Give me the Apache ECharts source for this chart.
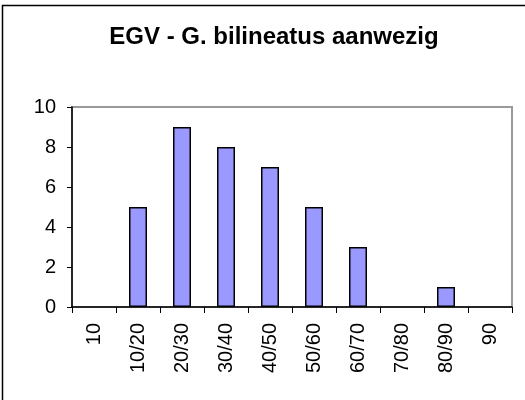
<!DOCTYPE html>
<html>
<head>
    <meta charset="utf-8">
    <title>EGV - G. bilineatus aanwezig</title>
    <script src="https://cdn.jsdelivr.net/npm/echarts@6/dist/echarts.min.js"></script>
    <style>
        html, body { margin: 0; padding: 0; background: #fff; }
        #chart1 { width: 525px; height: 400px; }
    </style>
</head>
<body>
<div id="chart1"></div>
<script type="text/javascript">
    var klassen = ['10', '10/20', '20/30', '30/40', '40/50', '50/60', '60/70', '70/80', '80/90', '90'];
    var aantallen = [0, 5, 9, 8, 7, 5, 3, 0, 1, 0];
    var yTicks = [0, 2, 4, 6, 8, 10];

    var font = 'Arial, "Liberation Sans", sans-serif';
    var myChart1 = echarts.init(document.getElementById('chart1'));

    // lege klassen zonder rand tekenen, zoals in Excel
    var barData = aantallen.map(function (v) {
        return v === 0 ? { value: v, itemStyle: { borderWidth: 0 } } : v;
    });

    myChart1.setOption({
        animation: false,
        backgroundColor: '#fff',
        title: {
            text: 'EGV - G. bilineatus aanwezig',
            left: 269,
            textAlign: 'center',
            top: 20,
            textStyle: { fontFamily: font, fontSize: 24, fontWeight: 'bold', color: '#000' }
        },
        graphic: [
            {
                // buitenste kader (loopt buiten beeld door)
                type: 'rect',
                shape: { x: 2.5, y: 5.5, width: 600, height: 500 },
                style: { fill: 'none', stroke: '#000', lineWidth: 1.5 },
                z: -1
            }
        ],
        grid: {
            left: 72,
            top: 107,
            right: 13,
            bottom: 93,
            show: true,
            borderColor: '#999',
            borderWidth: 2
        },
        xAxis: {
            type: 'category',
            data: klassen,
            boundaryGap: true,
            axisLine: { lineStyle: { color: '#000', width: 1.5 } },
            axisTick: { show: true, length: 6, lineStyle: { color: '#000' } },
            axisLabel: {
                rotate: 90,
                margin: 16,
                interval: 0,
                fontFamily: font,
                fontSize: 20,
                color: '#000'
            }
        },
        yAxis: {
            type: 'value',
            min: yTicks[0],
            max: yTicks[yTicks.length - 1],
            interval: yTicks[1] - yTicks[0],
            axisLine: { show: true, lineStyle: { color: '#000', width: 1.5 } },
            axisTick: { show: true, length: 5, lineStyle: { color: '#000' } },
            splitLine: { show: false },
            axisLabel: {
                margin: 16,
                fontFamily: font,
                fontSize: 20,
                color: '#000'
            }
        },
        series: [
            {
                name: 'aantal',
                type: 'bar',
                data: barData,
                barWidth: 18,
                itemStyle: {
                    color: '#9999ff',
                    borderColor: '#000',
                    borderWidth: 1.5
                }
            }
        ]
    });
</script>
</body>
</html>
